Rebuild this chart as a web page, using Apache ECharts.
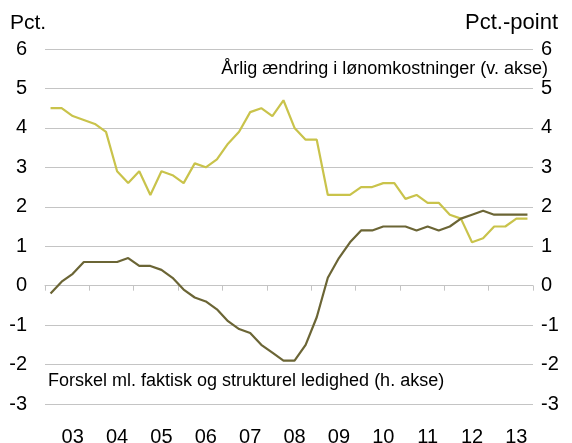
<!DOCTYPE html>
<html>
<head>
<meta charset="utf-8">
<script src="https://cdn.jsdelivr.net/npm/echarts@6/dist/echarts.min.js"></script>
<style>
  html, body { margin: 0; padding: 0; background: #fff; }
  #chart { width: 572px; height: 443px; }
</style>
</head>
<body>
<div id="chart"></div>
<script>
// kvartaler 2003K1 - 2013K4
const years = ['03', '04', '05', '06', '07', '08', '09', '10', '11', '12', '13']
const quarters = []
years.forEach(function (y) {
    for (let q = 1; q <= 4; q++) quarters.push(y + 'K' + q)
})

// Årlig ændring i lønomkostninger (v. akse)
const wageGrowth = [4.5, 4.5, 4.3, 4.2, 4.1, 3.9, 2.9, 2.6, 2.9, 2.3, 2.9, 2.8, 2.6, 3.1, 3.0, 3.2,
    3.6, 3.9, 4.4, 4.5, 4.3, 4.7, 4.0, 3.7, 3.7, 2.3, 2.3, 2.3, 2.5, 2.5,
    2.6, 2.6, 2.2, 2.3, 2.1, 2.1, 1.8, 1.7, 1.1, 1.2, 1.5, 1.5, 1.7, 1.7]

// Forskel ml. faktisk og strukturel ledighed (h. akse)
const gap = [-0.2, 0.1, 0.3, 0.6, 0.6, 0.6, 0.6, 0.7, 0.5, 0.5, 0.4, 0.2, -0.1, -0.3, -0.4, -0.6,
    -0.9, -1.1, -1.2, -1.5, -1.7, -1.9, -1.9, -1.5, -0.8, 0.2, 0.7, 1.1,
    1.4, 1.4, 1.5, 1.5, 1.5, 1.4, 1.5, 1.4, 1.5, 1.7, 1.8, 1.9, 1.8, 1.8, 1.8, 1.8]

const font = 'Liberation Sans, Arial, sans-serif'
const gridColor = '#c4c4c4'

const chart = echarts.init(document.getElementById('chart'))

const option = {
    animation: false,
    backgroundColor: '#fff',
    // faste marginer, ingen automatisk tilpasning til labels
    grid: { left: 45, right: 39, top: 49, bottom: 39, containLabel: false, outerBoundsMode: 'none' },
    xAxis: [
        {
            type: 'category',
            data: quarters,
            boundaryGap: true,
            axisLine: { onZero: true, lineStyle: { color: gridColor, width: 1 } },
            axisTick: { show: true, interval: 3, length: 5, lineStyle: { color: gridColor } },
            axisLabel: { show: false },
            splitLine: { show: false }
        },
        {
            // årstal under plottet, placeret midt i året
            type: 'category',
            data: quarters,
            position: 'bottom',
            boundaryGap: true,
            axisLine: { show: false, onZero: false },
            axisTick: { show: false },
            axisLabel: {
                color: '#000', fontSize: 20, fontFamily: font, margin: 23,
                interval: function (index) { return index % 4 === 2 },
                formatter: function (v) { return v.slice(0, 2) }
            },
            splitLine: { show: false }
        }
    ],
    yAxis: [
        {
            type: 'value',
            min: -3, max: 6, interval: 1,
            position: 'left',
            axisLine: { show: false },
            axisTick: { show: false },
            axisLabel: { color: '#000', fontSize: 20, fontFamily: font, margin: 18 },
            splitLine: { lineStyle: { color: gridColor, width: 1 } }
        },
        {
            type: 'value',
            min: -3, max: 6, interval: 1,
            position: 'right',
            axisLine: { show: false },
            axisTick: { show: false },
            axisLabel: { color: '#000', fontSize: 20, fontFamily: font, margin: 8 },
            splitLine: { show: false }
        }
    ],
    graphic: [
        { type: 'text', left: 10, top: 13, style: { text: 'Pct.', fontSize: 21, fontFamily: font, fill: '#000' } },
        { type: 'text', right: 14, top: 12, style: { text: 'Pct.-point', fontSize: 22, fontFamily: font, fill: '#000' } },
        { type: 'text', right: 24, top: 60, style: { text: 'Årlig ændring i lønomkostninger (v. akse)', fontSize: 18, fontFamily: font, fill: '#000' } },
        { type: 'text', left: 48, top: 372, style: { text: 'Forskel ml. faktisk og strukturel ledighed (h. akse)', fontSize: 18, fontFamily: font, fill: '#000' } }
    ],
    series: [
        {
            name: 'Årlig ændring i lønomkostninger',
            type: 'line',
            xAxisIndex: 0,
            yAxisIndex: 0,
            data: wageGrowth,
            symbol: 'none',
            lineStyle: { color: '#c9c34b', width: 2.2 },
            z: 3
        },
        {
            name: 'Forskel ml. faktisk og strukturel ledighed',
            type: 'line',
            xAxisIndex: 0,
            yAxisIndex: 1,
            data: gap,
            symbol: 'none',
            lineStyle: { color: '#6b6535', width: 2.2 },
            z: 4
        }
    ]
}

chart.setOption(option)
</script>
</body>
</html>
